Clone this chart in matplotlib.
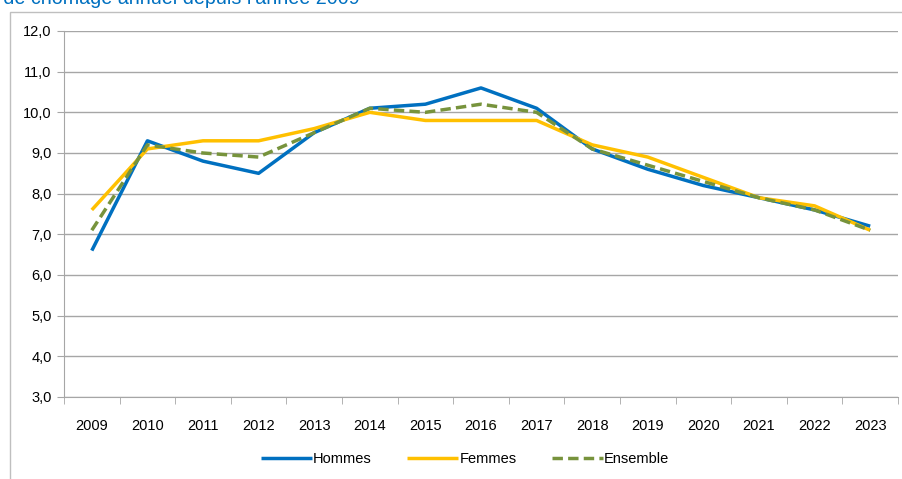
import matplotlib
matplotlib.use("Agg")
import matplotlib.pyplot as plt
from matplotlib.patches import Rectangle
from matplotlib.ticker import FixedLocator

plt.rcParams["font.family"] = ["Liberation Sans Narrow", "Liberation Sans", "DejaVu Sans"]

years = [str(y) for y in range(2009, 2024)]
hommes = [6.6, 9.3, 8.8, 8.5, 9.5, 10.1, 10.2, 10.6, 10.1, 9.1, 8.6, 8.2, 7.9, 7.6, 7.2]
femmes = [7.6, 9.1, 9.3, 9.3, 9.6, 10.0, 9.8, 9.8, 9.8, 9.2, 8.9, 8.4, 7.9, 7.7, 7.1]
ensemble = [7.1, 9.2, 9.0, 8.9, 9.5, 10.1, 10.0, 10.2, 10.0, 9.1, 8.7, 8.3, 7.9, 7.6, 7.1]
y_ticks = [3, 4, 5, 6, 7, 8, 9, 10, 11, 12]

BLUE = "#0070C0"
YELLOW = "#FFC000"
GREEN = "#77933C"
GRID = "#A6A6A6"

W, H = 902, 479
fig = plt.figure(figsize=(W / 100, H / 100), dpi=100)

# chart frame (cut off on right and bottom)
fig.patches.append(Rectangle((10 / W, -0.1), 1.2, 1.1 - 12 / H,
                             transform=fig.transFigure, fill=False,
                             edgecolor="#BFBFBF", linewidth=1))

# cropped title, as in the source image
fig.text(360 / W, 1 - 4 / H, "Taux de chômage annuel depuis l'année 2009",
         ha="right", va="baseline", color=BLUE, fontsize=14.2,
         family=["Liberation Sans", "DejaVu Sans"])

ax = fig.add_axes([64 / W, 1 - 397 / H, (898 - 64) / W, (397 - 31) / H])
x = list(range(len(years)))
ax.plot(x, hommes, color=BLUE, lw=2.5, label="Hommes", solid_capstyle="butt")
ax.plot(x, femmes, color=YELLOW, lw=2.5, label="Femmes", solid_capstyle="butt")
ax.plot(x, ensemble, color=GREEN, lw=2.5, ls=(0, (3, 1.5)), label="Ensemble")

ax.set_xlim(-0.5, len(years) - 0.5)
ax.set_ylim(3, 12)
ax.set_yticks(y_ticks)
ax.set_yticklabels([f"{v:.1f}".replace(".", ",") for v in y_ticks], fontsize=10.5)
ax.yaxis.grid(True, color=GRID, lw=1)
ax.set_axisbelow(True)

ax.set_xticks(x)
ax.set_xticklabels(years, fontsize=10.5)
ax.tick_params(axis="x", which="major", length=0, pad=16)
ax.xaxis.set_minor_locator(FixedLocator([i - 0.5 for i in range(len(years) + 1)]))
ax.tick_params(axis="x", which="minor", length=5, color=GRID, direction="out")
ax.tick_params(axis="y", length=5, color=GRID, direction="out", pad=4)

for s in ["top", "right"]:
    ax.spines[s].set_visible(False)
ax.spines["left"].set_color(GRID)
ax.spines["bottom"].set_color(GRID)

fig.legend(loc="center", bbox_to_anchor=(465 / W, 1 - 459 / H), ncol=3,
           frameon=False, fontsize=10.5, handlelength=3.5, handletextpad=0.1,
           columnspacing=2.4)

fig.savefig("out.png", dpi=100)
